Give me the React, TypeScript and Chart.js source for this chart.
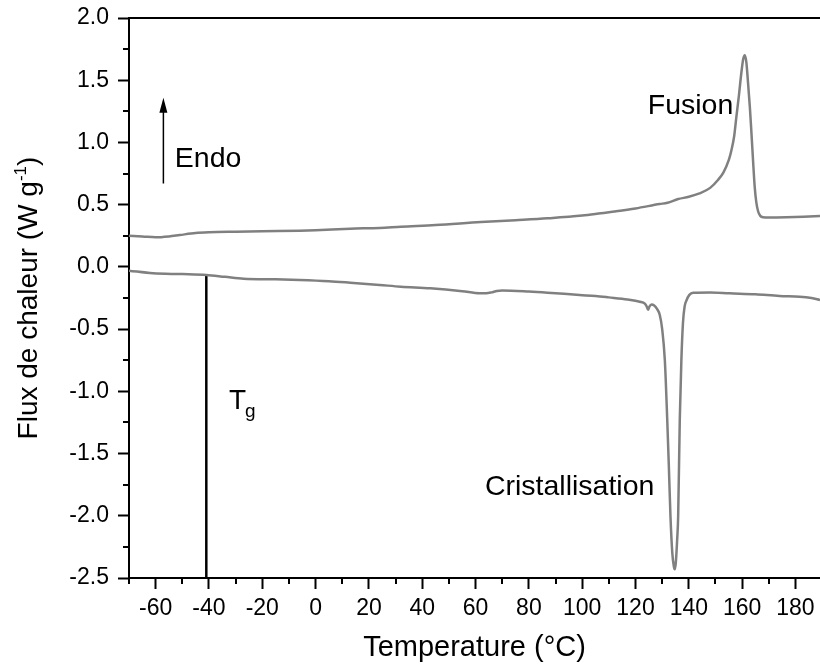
import React, { useEffect, useRef } from "react";
import { Chart, registerables } from "chart.js";
Chart.register(...registerables);

// Heating scan (upper curve)
const heatT = [-70, -65, -60, -55, -51, -45, -40, -30, -20, -6, 0, 13, 24, 32, 45, 62, 75, 87, 100, 107, 112, 120, 129, 132, 136, 140, 144, 148, 151, 153, 155, 156, 157, 157.8, 158.8, 159.7, 160.4, 161, 161.6, 162.2, 162.9, 163.5, 164.1, 164.7, 165.3, 166, 166.8, 167.8, 170, 176.6, 183, 189.2];
const heatFlux = [0.25, 0.245, 0.238, 0.245, 0.256, 0.272, 0.278, 0.283, 0.287, 0.291, 0.295, 0.307, 0.313, 0.323, 0.336, 0.36, 0.375, 0.39, 0.412, 0.431, 0.445, 0.47, 0.505, 0.515, 0.545, 0.563, 0.59, 0.635, 0.7, 0.76, 0.86, 0.94, 1.05, 1.2, 1.38, 1.56, 1.67, 1.7, 1.64, 1.48, 1.28, 1.07, 0.85, 0.645, 0.52, 0.445, 0.41, 0.399, 0.397, 0.399, 0.403, 0.409];

// Cooling scan (lower curve)
const coolT = [-70, -61, -50, -41, -34, -27, -15, -6, 5, 13, 24, 32, 43, 55, 61.6, 64, 66, 68, 70, 80, 87, 99, 105, 110, 117, 121.6, 123.5, 124.2, 124.7, 125.2, 126, 127, 128, 129.1, 130, 131, 131.9, 132.5, 133.1, 133.8, 134.4, 134.7, 135.1, 135.6, 136, 136.6, 137.2, 137.8, 138.4, 139.1, 140.2, 141.6, 148, 155.3, 165, 174, 181.6, 186, 189.2];
const coolFlux = [-0.03, -0.052, -0.058, -0.065, -0.08, -0.095, -0.1, -0.105, -0.115, -0.127, -0.145, -0.159, -0.172, -0.195, -0.212, -0.212, -0.205, -0.193, -0.19, -0.198, -0.207, -0.226, -0.234, -0.245, -0.262, -0.28, -0.295, -0.318, -0.345, -0.32, -0.303, -0.31, -0.335, -0.387, -0.5, -0.75, -1.23, -1.6, -2.0, -2.3, -2.41, -2.43, -2.38, -2.2, -2.0, -1.23, -0.75, -0.45, -0.32, -0.27, -0.225, -0.207, -0.205, -0.212, -0.22, -0.234, -0.239, -0.25, -0.266];

// Tg marker line
const tgT = [-41, -41];
const tgFlux = [-2.5, -0.06];

// Endo arrow (from, to)
const arrowT = [-57.1, -57.1];
const arrowFlux = [0.67, 1.36];

// Axis ticks
const xTicks = [-60, -40, -20, 0, 20, 40, 60, 80, 100, 120, 140, 160, 180];
const xMinor = [-70, -50, -30, -10, 10, 30, 50, 70, 90, 110, 130, 150, 170];
const yTicks = [-2.5, -2.0, -1.5, -1.0, -0.5, 0.0, 0.5, 1.0, 1.5, 2.0];
const yMinor = [-2.25, -1.75, -1.25, -0.75, -0.25, 0.25, 0.75, 1.25, 1.75];

// Annotation labels
const noteText = ["Endo", "Fusion", "Cristallisation"];
const noteT = [-52.8, 124.6, 63.5];
const noteFlux = [0.867, 1.293, -1.773];
const tgLabelT = -32.5;
const tgLabelFlux = -1.062;

const xTitle = "Temperature (°C)";
const yTitleMain = "Flux de chaleur (W g";
const yTitleSup = "-1";
const yTitleEnd = ")";

const FONT = "'Liberation Sans', Arial, sans-serif";

const pts = (xs: number[], ys: number[]) => xs.map((x, i) => ({ x, y: ys[i] }));

const decor = {
  id: "decor",
  afterDatasetsDraw(chart: any) {
    const { ctx, chartArea: a, scales } = chart;
    const xs = scales.x, ys = scales.y;
    ctx.save();
    ctx.strokeStyle = "#000";
    ctx.fillStyle = "#000";
    ctx.lineWidth = 2;
    // top border
    ctx.beginPath();
    ctx.moveTo(a.left - 1, a.top);
    ctx.lineTo(a.right, a.top);
    ctx.stroke();
    // minor ticks
    ctx.beginPath();
    xMinor.forEach((v) => {
      const px = Math.round(xs.getPixelForValue(v));
      ctx.moveTo(px, a.bottom);
      ctx.lineTo(px, a.bottom + 6);
    });
    yMinor.forEach((v) => {
      const py = Math.round(ys.getPixelForValue(v));
      ctx.moveTo(a.left - 6, py);
      ctx.lineTo(a.left, py);
    });
    ctx.stroke();
    // arrow
    const ax = xs.getPixelForValue(arrowT[0]);
    const ay0 = ys.getPixelForValue(arrowFlux[0]);
    const ax1 = xs.getPixelForValue(arrowT[1]);
    const ay1 = ys.getPixelForValue(arrowFlux[1]);
    ctx.lineWidth = 1.5;
    ctx.beginPath();
    ctx.moveTo(ax, ay0);
    ctx.lineTo(ax1, ay1 + 10);
    ctx.stroke();
    ctx.beginPath();
    ctx.moveTo(ax1, ay1);
    ctx.lineTo(ax1 - 4, ay1 + 15);
    ctx.lineTo(ax1 + 4, ay1 + 15);
    ctx.closePath();
    ctx.fill();
    // annotations
    ctx.font = `28.5px ${FONT}`;
    ctx.textAlign = "left";
    ctx.textBaseline = "middle";
    noteText.forEach((t, i) => {
      ctx.fillText(t, xs.getPixelForValue(noteT[i]), ys.getPixelForValue(noteFlux[i]));
    });
    // Tg
    const tx = xs.getPixelForValue(tgLabelT);
    const ty = ys.getPixelForValue(tgLabelFlux);
    ctx.textBaseline = "alphabetic";
    ctx.font = `28px ${FONT}`;
    ctx.fillText("T", tx, ty + 10);
    const tw = ctx.measureText("T").width;
    ctx.font = `19px ${FONT}`;
    ctx.fillText("g", tx + tw - 1, ty + 18);
    // x title
    ctx.font = `29px ${FONT}`;
    ctx.textAlign = "center";
    ctx.textBaseline = "middle";
    ctx.fillText(xTitle, (a.left + a.right) / 2, 648);
    // y title
    ctx.translate(27, (a.top + a.bottom) / 2);
    ctx.rotate(-Math.PI / 2);
    ctx.textAlign = "left";
    ctx.textBaseline = "alphabetic";
    ctx.font = `28px ${FONT}`;
    const w1 = ctx.measureText(yTitleMain).width;
    ctx.font = `17px ${FONT}`;
    const w2 = ctx.measureText(yTitleSup).width;
    ctx.font = `28px ${FONT}`;
    const w3 = ctx.measureText(yTitleEnd).width;
    const total = w1 + w2 + w3;
    let cx = -total / 2;
    const base = 10;
    ctx.fillText(yTitleMain, cx, base);
    cx += w1;
    ctx.font = `17px ${FONT}`;
    ctx.fillText(yTitleSup, cx, base - 11);
    cx += w2;
    ctx.font = `28px ${FONT}`;
    ctx.fillText(yTitleEnd, cx, base);
    ctx.restore();
  },
};

export default function App() {
  const ref = useRef<HTMLCanvasElement>(null);
  useEffect(() => {
    if (!ref.current) return;
    const chart = new Chart(ref.current, {
      type: "line",
      data: {
        datasets: [
          { data: pts(heatT, heatFlux), borderColor: "#808080", borderWidth: 2.5, pointRadius: 0, cubicInterpolationMode: "monotone" },
          { data: pts(coolT, coolFlux), borderColor: "#808080", borderWidth: 2.5, pointRadius: 0, cubicInterpolationMode: "monotone" },
          { data: pts(tgT, tgFlux), borderColor: "#000", borderWidth: 2.5, pointRadius: 0, tension: 0 },
        ],
      } as any,
      options: {
        animation: false,
        responsive: false,
        devicePixelRatio: 1,
        layout: { padding: { top: 18, right: 0, left: 0, bottom: 0 } },
        plugins: { legend: { display: false }, tooltip: { enabled: false } },
        scales: {
          x: {
            type: "linear",
            min: -70,
            max: 189.2,
            afterBuildTicks: (s: any) => { s.ticks = xTicks.map((v) => ({ value: v })); },
            afterFit: (s: any) => { s.height = 92; s.paddingLeft = 0; s.paddingRight = 0; },
            grid: { drawOnChartArea: false, drawTicks: true, tickLength: 11, tickWidth: 2, tickColor: "#000" },
            border: { color: "#000", width: 2 },
            ticks: { font: { family: FONT, size: 23 }, color: "#000", padding: 6, maxRotation: 0, autoSkip: false, callback: (v: any) => String(v) },
          },
          y: {
            type: "linear",
            min: -2.5,
            max: 2.0,
            afterBuildTicks: (s: any) => { s.ticks = yTicks.map((v) => ({ value: v })); },
            afterFit: (s: any) => { s.width = 129; s.paddingTop = 0; s.paddingBottom = 0; },
            grid: { drawOnChartArea: false, drawTicks: true, tickLength: 11, tickWidth: 2, tickColor: "#000" },
            border: { color: "#000", width: 2 },
            ticks: { font: { family: FONT, size: 23 }, color: "#000", padding: 9, autoSkip: false, callback: (v: any) => Number(v).toFixed(1) },
          },
        },
      } as any,
      plugins: [decor],
    });
    return () => chart.destroy();
  }, []);
  return (
    <div style={{ position: "absolute", left: 0, top: 0, width: 820, height: 670, background: "#fff" }}>
      <canvas ref={ref} width={820} height={670} style={{ display: "block", width: 820, height: 670 }} />
    </div>
  );
}
